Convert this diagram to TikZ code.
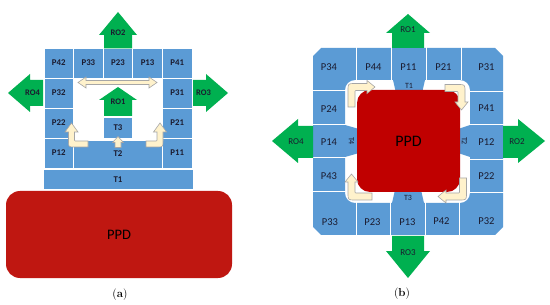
\documentclass[tikz,border=0pt]{standalone}
\usepackage{fontspec}
\newfontfamily\calib{Carlito}
\definecolor{cellblue}{HTML}{5B9BD5}
\definecolor{rogreen}{HTML}{00B050}
\definecolor{ppdreda}{HTML}{BF1711}
\definecolor{ppdredb}{HTML}{C00000}
\definecolor{turnyellow}{HTML}{FFF2CC}
\definecolor{turngray}{HTML}{A6A6A6}
\definecolor{labeltext}{HTML}{1B1B2F}
% #1 placement, #2 tail length, #3 tip length, #4 half band, #5 half head, #6 head length
\newcommand{\bendarrow}[6]{%
  \draw[turnstyle,#1] (-#4,#2) -- (-#4,#4) .. controls (-#4,-#4) .. (#4,-#4) -- (#3-#6,-#4) -- (#3-#6,-#5) -- (#3,0) -- (#3-#6,#5) -- (#3-#6,#4) -- (#4+0.8,#4) .. controls (#4,#4) .. (#4,#4+0.8) -- (#4,#2) -- cycle;}
\begin{document}
\begin{tikzpicture}[x=1pt,y=-1pt,
  cella/.style={rectangle,fill=cellblue,draw=white,line width=0.9pt,inner sep=0pt,minimum width=29.6pt,minimum height=30pt,font=\calib\bfseries\fontsize{8.8}{9}\selectfont,text=labeltext},
  lblb/.style={inner sep=0pt,font=\calib\fontsize{10.5}{11}\selectfont,text=labeltext},
  tlbl/.style={inner sep=0pt,font=\calib\fontsize{8}{8}\selectfont,text=labeltext},
  rolbl/.style={inner sep=0pt,font=\calib\bfseries\fontsize{8.5}{9}\selectfont,text=labeltext},
  roarrow/.style={fill=rogreen},
  turnstyle/.style={fill=turnyellow,draw=turngray,line width=0.6pt},
  sepline/.style={draw=white,line width=1pt},
  ppd/.style={rectangle,rounded corners=14pt,inner sep=0pt,font=\calib\fontsize{14.5}{16}\selectfont,text=black}]
\useasboundingbox (0,0) rectangle (550,305);
\fill[white] (0,0) rectangle (550,305);

% (a) stacked layout
\node[cella] (p42) at (58.8,63) {P42};
\node[cella] (p33) at (88.4,63) {P33};
\node[cella] (p23) at (118,63) {P23};
\node[cella] (p13) at (147.6,63) {P13};
\node[cella] (p41) at (177.2,63) {P41};
\node[cella] (p32) at (58.8,93) {P32};
\node[cella] (p31) at (177.2,93) {P31};
\node[cella] (p22) at (58.8,123) {P22};
\node[cella] (p21) at (177.2,123) {P21};
\node[cella] (p12) at (58.8,153) {P12};
\node[cella] (p11) at (177.2,153) {P11};
\node[cella,minimum width=88.8pt,minimum height=28pt,text depth=-5pt] (t2a) at (118,154) {T2};
\node[cella,minimum width=28.8pt,minimum height=21.5pt] (t3a) at (118,127.75) {T3};
\node[cella,minimum width=150pt,minimum height=20pt] (t1a) at (118,179.5) {T1};
\node[ppd,fill=ppdreda,minimum width=226pt,minimum height=87pt] (ppda) at (119,234.5) {PPD};

\fill[roarrow] (104,48.5) -- (104,35) -- (99,35) -- (118,12) -- (137,35) -- (132,35) -- (132,48.5) -- cycle;
\fill[roarrow] (104,116) -- (104,100) -- (99,100) -- (118,87) -- (137,100) -- (132,100) -- (132,116) -- cycle;
\fill[roarrow] (43,80) -- (30,80) -- (30,74) -- (8,93) -- (30,112) -- (30,106) -- (43,106) -- cycle;
\fill[roarrow] (193,80) -- (206,80) -- (206,74) -- (228,93) -- (206,112) -- (206,106) -- (193,106) -- cycle;
\node[rolbl] (ro2a) at (118,33) {RO2};
\node[rolbl] (ro1a) at (118,102) {RO1};
\node[rolbl] (ro4a) at (32.5,93) {RO4};
\node[rolbl] (ro3a) at (203.5,93) {RO3};

\draw[turnstyle] (78,82.5) -- (86,77) -- (86,80.5) -- (149,80.5) -- (149,77) -- (157,82.5) -- (149,88) -- (149,84.5) -- (86,84.5) -- (86,88) -- cycle;
\draw[turnstyle] (115,147.5) -- (115,142.5) -- (112.5,142.5) -- (118,136.5) -- (123.5,142.5) -- (121,142.5) -- (121,147.5) -- cycle;
\bendarrow{shift={(71.5,144)},rotate=90}{16.5}{21}{3}{6.5}{9}
\bendarrow{shift={(160,144)},xscale=-1,rotate=90}{14}{21}{3}{6.5}{9}

% (b) ring layout
\fill[cellblue,even odd rule] (321,48) -- (495,48) -- (503,56) -- (503,227) -- (495,235) -- (321,235) -- (313,227) -- (313,56) -- cycle
  [rounded corners=10pt] (345,80) rectangle (470,203);
\foreach \sx in {356,391,426,461} \draw[sepline] (\sx,47) -- (\sx,80.5);
\foreach \sx in {356,390,425,459} \draw[sepline] (\sx,202.5) -- (\sx,236);
\foreach \sy in {91,124.5,158,192} \draw[sepline] (312,\sy) -- (345.5,\sy);
\foreach \sy in {91.5,125,159.5,193} \draw[sepline] (469.5,\sy) -- (504,\sy);
\fill[cellblue] (393,80) -- (425,80) -- (422,93) -- (396,93) -- cycle;
\fill[cellblue] (392,203) -- (424,203) -- (421,190) -- (395,190) -- cycle;
\fill[cellblue] (345,125) -- (345,157) -- (359,153) -- (359,129) -- cycle;
\fill[cellblue] (470,125) -- (470,157) -- (458,153) -- (458,129) -- cycle;
\node[ppd,fill=ppdredb,rounded corners=13pt,minimum width=103pt,minimum height=102pt,font=\calib\fontsize{16}{17}\selectfont] (ppdb) at (408.5,141) {PPD};

\node[lblb] (p34) at (329,67) {P34};
\node[lblb] (p44) at (373.5,67) {P44};
\node[lblb] (p11b) at (408.5,67) {P11};
\node[lblb] (p21b) at (443.5,67) {P21};
\node[lblb] (p31b) at (486.5,67) {P31};
\node[lblb] (p24) at (329,109) {P24};
\node[lblb] (p14) at (329,142) {P14};
\node[lblb] (p43) at (329,176) {P43};
\node[lblb] (p33b) at (330,222) {P33};
\node[lblb] (p23b) at (372.5,222) {P23};
\node[lblb] (p13b) at (407.5,222) {P13};
\node[lblb] (p42b) at (441.5,221) {P42};
\node[lblb] (p32b) at (486.5,221) {P32};
\node[lblb] (p41b) at (486.5,108) {P41};
\node[lblb] (p12b) at (486.5,142) {P12};
\node[lblb] (p22b) at (486.5,176) {P22};
\node[tlbl] (t1b) at (409,85.5) {T1};
\node[tlbl] (t3b) at (408,197.5) {T3};
\node[tlbl,rotate=-90] (t4b) at (351.5,141) {T4};
\node[tlbl,rotate=-90] (t2b) at (464.5,141) {T2};

\fill[roarrow] (392,48) -- (392,33) -- (386,33) -- (408,14) -- (430,33) -- (424,33) -- (424,48) -- cycle;
\fill[roarrow] (392,236) -- (392,251) -- (386,251) -- (408,278) -- (430,251) -- (424,251) -- (424,236) -- cycle;
\fill[roarrow] (313,126) -- (298,126) -- (298,119) -- (272,141) -- (298,163) -- (298,158) -- (313,158) -- cycle;
\fill[roarrow] (503,126) -- (518,126) -- (518,119) -- (545,141) -- (518,163) -- (518,158) -- (503,158) -- cycle;
\node[rolbl,font=\calib\fontsize{9}{9}\selectfont] (ro1b) at (408,30) {RO1};
\node[rolbl,font=\calib\fontsize{9}{9}\selectfont] (ro3b) at (408,253) {RO3};
\node[rolbl,font=\calib\fontsize{9}{9}\selectfont] (ro4b) at (296,142) {RO4};
\node[rolbl,font=\calib\fontsize{9}{9}\selectfont] (ro2b) at (517,142) {RO2};

\bendarrow{shift={(351.5,87)}}{20}{23.5}{3.5}{6.5}{8}
\bendarrow{shift={(461.5,88)},rotate=-90}{16.5}{22}{3.5}{6.5}{8}
\bendarrow{shift={(463,196.5)},rotate=180}{18.5}{25}{3.5}{6.5}{8}
\bendarrow{shift={(351.5,196.5)},rotate=90}{20.5}{22.5}{3.5}{6.5}{8}

\node[font=\fontsize{11.5}{12}\selectfont] (capa) at (120,295) {(\textbf{a})};
\node[font=\fontsize{11.5}{12}\selectfont] (capb) at (402,294) {(\textbf{b})};
\end{tikzpicture}
\end{document}
